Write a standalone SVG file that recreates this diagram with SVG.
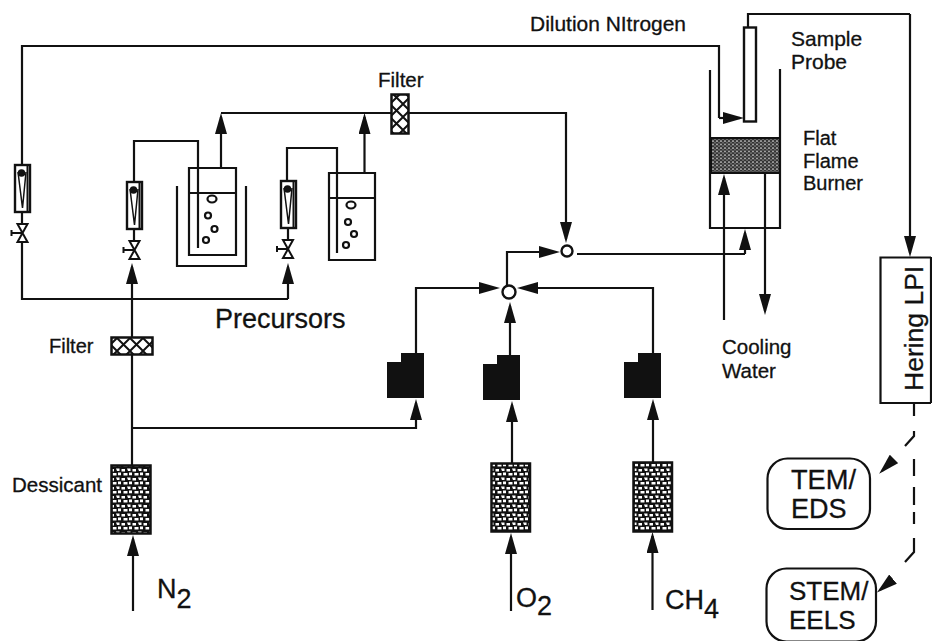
<svg xmlns="http://www.w3.org/2000/svg" xmlns:xlink="http://www.w3.org/1999/xlink" width="932" height="641" viewBox="0 0 932 641">
<style>
text{font-family:"Liberation Sans",Arial,sans-serif;fill:#111;stroke:#111;stroke-width:.3}
.c{fill:none;stroke:#111;stroke-width:2.200}
.a{marker-end:url(#arr)}
.s{fill:none;stroke:#111;stroke-width:2.200}
.w{fill:#fff;stroke:#111;stroke-width:2.400}
.b{fill:#fff;stroke:#111;stroke-width:2}
.k{fill:#111}
.d{fill:url(#stip);stroke:#111;stroke-width:2.500}
.f{fill:url(#hatch);stroke:#111;stroke-width:2.500}
</style>
<defs>
<marker id="arr" markerUnits="userSpaceOnUse" viewBox="0 0 21 12" refX="17" refY="6" markerWidth="21" markerHeight="12" orient="auto"><path d="M0 0L21 6L0 12Z" fill="#111"/></marker>
<pattern id="stip" patternUnits="userSpaceOnUse" width="11" height="9"><rect width="11" height="9" fill="#111"/><path d="M.5 1h3.500v2.500h-3.500zM6 .5h3.500v2.500h-2.500zM2.500 5h4v2.500h-4zM8 4.500h3v2.800h-3z" fill="#fff"/></pattern>
<pattern id="fine" patternUnits="userSpaceOnUse" width="4" height="3.500"><rect width="4" height="3.500" fill="#333"/><circle cx="1" cy="1" r=".8" fill="#e4e4e4"/><circle cx="3" cy="2.600" r=".7" fill="#c4c4c4"/></pattern>
<pattern id="hatch" patternUnits="userSpaceOnUse" width="13" height="13"><rect width="13" height="13" fill="#fff"/><path d="M0 0L13 13M13 0L0 13" stroke="#111" stroke-width="2"/></pattern>
<g id="meter"><rect class="w" x="0" y="0" width="15" height="47"/><path d="M3 7L7.500 43L11 7" fill="none" stroke="#111" stroke-width="1.500"/><circle class="k" cx="6.500" cy="8" r="3.800"/><path d="M12.500 1V46" stroke="#111" stroke-width="2"/></g>
<g id="valve"><path class="b" d="M-5 -9H5L-5 9H5Z"/><path d="M0 0H-11M-11 -3V3" stroke="#111" stroke-width="2" fill="none"/></g>
</defs>
<rect width="932" height="641" fill="#fff"/>

<g id="connectors">
<path class="c" d="M22 165V46H719V118"/>
<path class="c a" d="M719 118H740"/>
<path class="c" d="M22 213V224M22 242V299H288"/>
<path class="c a" d="M288 299V267"/>
<path class="c a" d="M132 465V267"/>
<path class="c" d="M134 182V141H198V248M134 229V241"/>
<path class="c" d="M287 181V148H337V253M288 228V240"/>
<path class="c a" d="M221 168V117"/>
<path class="c" d="M221 113H391"/>
<path class="c a" d="M364.500 173V117"/>
<path class="c a" d="M409 113H566V239"/>
<path class="c a" d="M507 285V252H556"/>
<path class="c a" d="M416 353V288H496"/>
<path class="c a" d="M653 353V288H521"/>
<path class="c a" d="M510 355V306"/>
<path class="c" d="M577 254H745"/>
<path class="c a" d="M745 254V233"/>
<path class="c a" d="M724 320V178"/>
<path class="c a" d="M765 173V311"/>
<path class="c" d="M748 27V14H910"/>
<path class="c a" d="M910 14V253"/>
<path class="c a" d="M131 428H416V403"/>
<path class="c a" d="M512 464V405"/>
<path class="c a" d="M653 463V403"/>
<path class="c a" d="M133 611V539"/>
<path class="c a" d="M511 611V537"/>
<path class="c a" d="M652.500 610V536"/>
<path class="c" d="M914 403V416M914 431V436L905 446M914 459V476M914 487V505M914 512V524M914 538V552L905 562"/>
<path class="c a" d="M891 462L882 471"/>
<path class="c a" d="M892 580L880 590"/>
</g>

<g id="meter-1"><use xlink:href="#meter" href="#meter" x="15" y="165"/></g>
<g id="valve-1"><use xlink:href="#valve" href="#valve" x="22.500" y="233"/></g>
<g id="meter-2"><use xlink:href="#meter" href="#meter" x="127" y="182"/></g>
<g id="valve-2"><use xlink:href="#valve" href="#valve" x="134.500" y="250"/></g>
<g id="meter-3"><use xlink:href="#meter" href="#meter" x="281" y="181"/></g>
<g id="valve-3"><use xlink:href="#valve" href="#valve" x="288" y="249"/></g>

<g id="bubbler-1">
<path class="s" d="M177 186V266H246V186"/>
<path class="s" d="M189 168H236V255H189ZM189 193H236"/>
<ellipse class="s" cx="212" cy="199" rx="4.500" ry="3.500"/><circle class="s" cx="208" cy="215.500" r="3"/><circle class="s" cx="214.500" cy="229" r="3"/><circle class="s" cx="206" cy="240" r="3"/>
</g>
<g id="bubbler-2">
<path class="s" d="M329 173H375V260H329ZM329 198H375"/>
<ellipse class="s" cx="351" cy="205" rx="4.500" ry="3.500"/><circle class="s" cx="348" cy="222" r="3"/><circle class="s" cx="354" cy="234" r="3"/><circle class="s" cx="346" cy="245" r="3"/>
</g>

<g id="filter-top"><rect class="f" x="391.500" y="94.500" width="17" height="39"/><text x="378" y="87" font-size="20.500">Filter</text></g>
<g id="filter-left"><rect class="f" x="111.500" y="337.500" width="41" height="17"/><text x="49" y="353" font-size="20">Filter</text></g>
<text x="215" y="328" font-size="27">Precursors</text>

<g id="mixer-1"><circle class="w" cx="567" cy="251" r="5.500"/></g>
<g id="mixer-2"><circle class="w" cx="509" cy="292" r="6.500" stroke-width="2.500"/></g>

<g id="regulator-1"><path class="k" d="M387 362H401V353H424V398H387Z"/></g>
<g id="regulator-2"><path class="k" d="M483 364H497V355H520V400H483Z"/></g>
<g id="regulator-3"><path class="k" d="M624 362H638V353H661V398H624Z"/></g>

<g id="dessicant-n2"><rect class="d" x="111.500" y="465.500" width="39" height="68"/><text x="12" y="492" font-size="20.500">Dessicant</text></g>
<g id="dessicant-o2"><rect class="d" x="491.500" y="463.500" width="38.500" height="68"/></g>
<g id="dessicant-ch4"><rect class="d" x="633.500" y="462.500" width="38.500" height="69"/></g>

<text x="157" y="598" font-size="27">N<tspan dy="10">2</tspan></text>
<text x="516" y="607" font-size="27">O<tspan dy="8">2</tspan></text>
<text x="665" y="609" font-size="27">CH<tspan dy="9">4</tspan></text>

<g id="burner">
<rect x="711" y="138" width="69" height="35" fill="url(#fine)" stroke="#111" stroke-width="2"/>
<path class="s" d="M710 70V228H780V69"/>
<text x="803" y="145" font-size="20">Flat</text><text x="803" y="168" font-size="20">Flame</text><text x="803" y="190" font-size="20">Burner</text>
</g>
<g id="probe"><rect class="w" x="744" y="27.500" width="12" height="94"/><text x="791" y="46" font-size="21">Sample</text><text x="791" y="69" font-size="21">Probe</text></g>
<text x="530" y="31" font-size="20" textLength="156" lengthAdjust="spacingAndGlyphs">Dilution NItrogen</text>
<text x="722" y="354" font-size="20.500">Cooling</text><text x="722" y="378" font-size="20.500">Water</text>

<g id="hering"><path class="s" d="M931 257.500H880.500V403H931"/><path class="s" d="M931 257V403"/><text transform="translate(923 391) rotate(-90)" font-size="26.500">Hering LPI</text></g>
<g id="tem"><rect class="s" x="767.500" y="458.500" width="102.500" height="70.500" rx="20"/><text x="791" y="489" font-size="27" textLength="65" lengthAdjust="spacingAndGlyphs">TEM/</text><text x="791" y="518" font-size="27">EDS</text></g>
<g id="stem"><rect class="s" x="766.500" y="568.500" width="109.500" height="73" rx="20"/><text x="789" y="600" font-size="26">STEM/</text><text x="789" y="629" font-size="26">EELS</text></g>
</svg>
